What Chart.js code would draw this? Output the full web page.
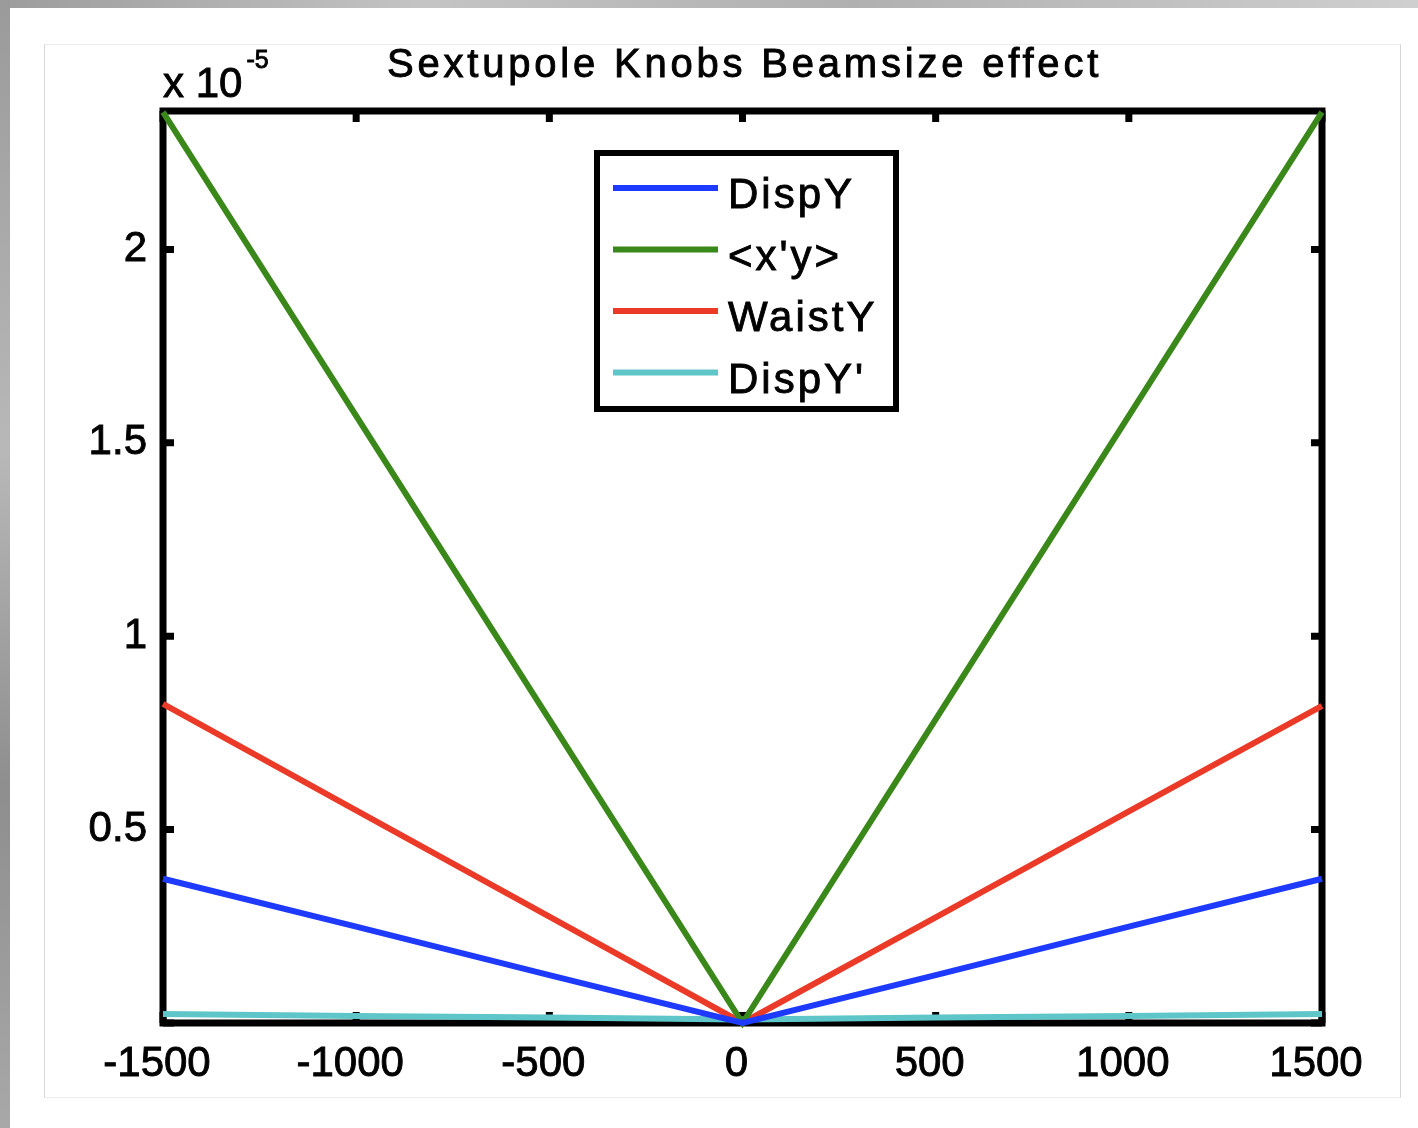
<!DOCTYPE html>
<html>
<head>
<meta charset="utf-8">
<script src="https://cdn.jsdelivr.net/npm/chart.js@4.4.1/dist/chart.umd.min.js"></script>
<style>
    html,body{margin:0;padding:0;background:#fff;}
    body{width:1418px;height:1128px;position:relative;overflow:hidden;}
    #edgeTop{position:absolute;left:0;top:0;width:1418px;height:8px;
        background:linear-gradient(90deg,#9c9c9c,#c4c4c4 30%,#b0b0b0 60%,#cfcfcf);}
    #edgeLeft{position:absolute;left:0;top:0;width:10px;height:1128px;
        background:linear-gradient(180deg,#9a9a9a,#b8b8b8 40%,#8e8e8e 70%,#a8a8a8);}
    #panel{position:absolute;left:44px;top:44px;width:1355px;height:1052px;
        border:1px solid #ececec;border-left-color:#d6d6d6;border-right-color:#d6d6d6;}
    #plot{position:absolute;left:0;top:0;}
</style>
</head>
<body>
<div id="edgeTop"></div>
<div id="edgeLeft"></div>
<div id="panel"></div>
<canvas id="plot" width="1418" height="1128"></canvas>
<script>
// knob setting, and beamsize contributions (in units of 1e-5)
const knobSteps=[-1500,-1000,-500,0,500,1000,1500];
const dispY=[0.373,0.249,0.124,0,0.124,0.249,0.373];
const xpY=[2.355,1.570,0.785,0,0.785,1.570,2.355];
const waistY=[0.825,0.550,0.275,0,0.273,0.547,0.820];
const dispYp=[0.023,0.018,0.014,0.009,0.014,0.018,0.023];

const seriesNames=["DispY","<x'y>","WaistY","DispY'"];
const seriesColors=["rgb(30,58,255)","rgb(58,136,26)","rgb(236,58,40)","rgb(94,198,200)"];
const seriesValues=[dispY,xpY,waistY,dispYp];

const FONT='"Liberation Sans", Arial, sans-serif';

function points(values) {
    return values.map((v,i)=>({x:knobSteps[i],y:v}));
}

// filled text with a thin outline so it reads as heavy as the tick labels
function heavyText(ctx,text,x,y) {
    ctx.fillText(text,x,y);
    ctx.strokeText(text,x,y);
}

// matlab style box: thick frame with inward ticks on all four sides
const boxAxes={
    id:'boxAxes',
    beforeDatasetsDraw(chart) {
        let
            ctx=chart.ctx,
            a=chart.chartArea,
            tl=11;
        ctx.save();
        ctx.strokeStyle='#000';
        ctx.lineWidth=7;
        ctx.lineCap='butt';
        ctx.beginPath();
        chart.scales.x.ticks.forEach(t=>{
            let px=chart.scales.x.getPixelForValue(t.value);
            ctx.moveTo(px,a.bottom);ctx.lineTo(px,a.bottom-tl);
            ctx.moveTo(px,a.top);ctx.lineTo(px,a.top+tl);
        });
        chart.scales.y.ticks.forEach(t=>{
            let py=chart.scales.y.getPixelForValue(t.value);
            ctx.moveTo(a.left,py);ctx.lineTo(a.left+tl,py);
            ctx.moveTo(a.right,py);ctx.lineTo(a.right-tl,py);
        });
        ctx.stroke();
        ctx.strokeRect(a.left,a.top,a.right-a.left,a.bottom-a.top);
        ctx.restore();
    },
    afterDraw(chart) {
        let
            ctx=chart.ctx,
            a=chart.chartArea;
        ctx.save();
        ctx.fillStyle='#000';
        ctx.strokeStyle='#000';
        ctx.lineWidth=0.9;

        // title
        ctx.font='40px '+FONT;
        ctx.letterSpacing='3.8px';
        ctx.textAlign='center';
        ctx.textBaseline='alphabetic';
        heavyText(ctx,'Sextupole Knobs Beamsize effect',(a.left+a.right)/2+2,77);

        // exponent label
        ctx.letterSpacing='0px';
        ctx.textAlign='left';
        ctx.font='42px '+FONT;
        heavyText(ctx,'x 10',a.left,97);
        let w=ctx.measureText('x 10').width;
        ctx.font='25px '+FONT;
        heavyText(ctx,'-5',a.left+w+4,68);

        // legend box
        let
            lx=597,ly=153,lw=299,lh=256;
        ctx.fillStyle='#fff';
        ctx.fillRect(lx,ly,lw,lh);
        ctx.lineWidth=6;
        ctx.strokeRect(lx,ly,lw,lh);
        ctx.font='42px '+FONT;
        ctx.letterSpacing='3px';
        chart.data.datasets.forEach((ds,i)=>{
            let y=188+i*61.5;
            ctx.strokeStyle=ds.borderColor;
            ctx.lineWidth=6;
            ctx.beginPath();
            ctx.moveTo(613,y);ctx.lineTo(718,y);
            ctx.stroke();
            ctx.fillStyle='#000';
            ctx.strokeStyle='#000';
            ctx.lineWidth=0.9;
            heavyText(ctx,ds.label,728,y+20);
        });
        ctx.restore();
    }
};

new Chart(
    document.getElementById('plot'),
    {
        type:'line',
        data:{
            datasets:seriesValues.map((vals,i)=>({
                label:seriesNames[i],
                data:points(vals),
                borderColor:seriesColors[i],
                backgroundColor:seriesColors[i],
                borderWidth:6,
                pointRadius:0,
                tension:0,
                clip:false
            }))
        },
        options:{
            responsive:false,
            animation:false,
            events:[],
            layout:{padding:{left:83,top:111,right:96,bottom:35}},
            plugins:{legend:{display:false},tooltip:{enabled:false}},
            scales:{
                x:{
                    type:'linear',
                    min:-1500,max:1500,
                    afterFit:s=>{s.height=70;},
                    grid:{display:false,drawTicks:false},
                    border:{display:false},
                    ticks:{stepSize:500,padding:16,labelOffset:-6,color:'#000',maxRotation:0,
                        textStrokeColor:'#000',textStrokeWidth:0.9,
                        font:{family:FONT,size:42},
                        callback:v=>String(v)}
                },
                y:{
                    type:'linear',
                    min:0,max:2.358,
                    afterFit:s=>{s.width=80;},
                    grid:{display:false,drawTicks:false},
                    border:{display:false},
                    ticks:{stepSize:0.5,includeBounds:false,padding:16,color:'#000',
                        textStrokeColor:'#000',textStrokeWidth:0.9,
                        font:{family:FONT,size:42},
                        callback:v=>v===0 ? '' : String(v)}
                }
            }
        },
        plugins:[boxAxes]
    }
);
</script>
</body>
</html>
